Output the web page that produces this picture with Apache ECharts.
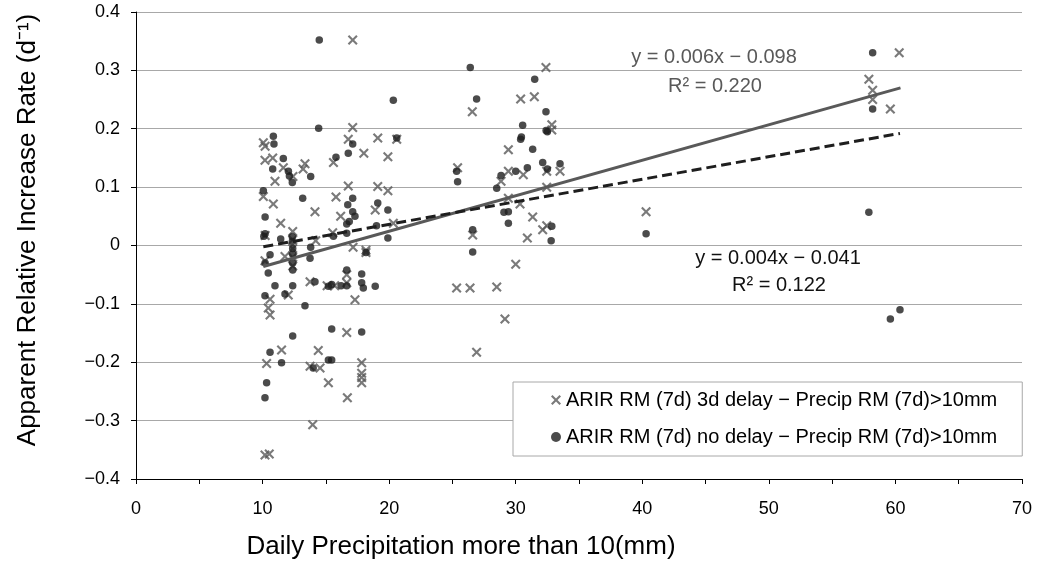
<!DOCTYPE html>
<html>
<head>
<meta charset="utf-8">
<script src="https://cdn.jsdelivr.net/npm/echarts@6/dist/echarts.min.js"></script>
<style>html,body{margin:0;padding:0;background:#fff}#c{width:1037px;height:566px}</style>
</head>
<body>
<div id="c"></div>
<script>
// ---- data ----
const seriesNames = [
  'ARIR RM (7d) 3d delay − Precip RM (7d)>10mm',
  'ARIR RM (7d) no delay − Precip RM (7d)>10mm'
];
// crosses: 3d delay
const delay3d = [
  [10.06,0.176],[10.2,0.170],[10.19,0.146],[10.8,0.150],[10.98,0.110],[11.64,0.133],[12.4,0.118],
  [13.2,0.131],[13.35,0.140],[15.6,0.142],[16.77,0.182],[17.12,0.202],[17.12,0.352],[18.0,0.158],
  [19.1,0.184],[20.6,0.182],[19.9,0.152],[10.06,0.084],[10.85,0.071],[11.43,0.038],[14.14,0.058],
  [15.8,0.083],[16.77,0.102],[16.17,0.050],[19.1,0.101],[19.9,0.094],[18.9,0.061],[20.33,0.038],
  [12.38,0.024],[10.2,0.017],[15.54,0.022],[14.2,0.008],[17.15,-0.003],[18.17,-0.008],
  [12.38,0.010],[12.38,-0.005],[12.38,-0.020],[12.38,-0.035],
  [11.77,-0.019],[10.19,-0.026],[10.59,-0.092],[10.45,-0.107],[10.59,-0.119],[12.03,-0.085],
  [11.5,-0.179],[10.32,-0.202],[10.19,-0.359],[10.53,-0.357],[13.75,-0.062],[14.4,-0.180],
  [13.75,-0.207],[14.54,-0.210],[15.2,-0.235],[13.96,-0.307],[15.1,-0.069],[15.7,-0.069],
  [16.65,-0.050],[16.65,-0.064],[17.3,-0.093],[16.65,-0.149],[16.7,-0.261],[17.83,-0.201],
  [17.83,-0.219],[17.83,-0.226],[17.83,-0.235],[18.17,-0.012],
  [32.39,0.305],[30.39,0.251],[31.47,0.255],[26.57,0.229],[32.85,0.207],[32.85,0.198],
  [29.42,0.164],[29.42,0.127],[30.6,0.121],[28.84,0.110],[25.41,0.133],[32.45,0.127],
  [33.5,0.127],[32.45,0.100],[29.42,0.081],[30.34,0.071],[31.34,0.049],[32.13,0.027],
  [32.45,0.034],[26.6,0.018],[30.92,0.013],[30.0,-0.032],[25.33,-0.073],[26.39,-0.073],
  [28.5,-0.071],[29.15,-0.126],[26.91,-0.183],
  [40.3,0.058],[60.3,0.330],[57.9,0.285],[58.2,0.266],[58.2,0.250],[59.6,0.234]
];
// dots: no delay
const noDelay = [
  [10.85,0.187],[10.9,0.174],[11.64,0.149],[10.8,0.131],[12.04,0.127],[12.12,0.119],[12.35,0.108],
  [13.8,0.118],[14.43,0.201],[14.48,0.352],[15.8,0.151],[16.77,0.158],[17.12,0.174],[20.33,0.249],
  [20.6,0.184],[10.06,0.094],[10.2,0.049],[13.17,0.081],[17.12,0.081],[16.73,0.070],[17.12,0.058],
  [17.3,0.050],[16.85,0.041],[16.65,0.037],[19.1,0.073],[19.9,0.061],[19.9,0.013],[19.0,0.034],
  [10.2,0.020],[10.1,0.016],[11.43,0.011],[12.35,0.015],[12.35,0.007],[15.6,0.016],[16.65,0.021],
  [13.8,-0.003],[12.38,-0.005],[12.38,-0.015],[12.38,-0.030],[12.38,-0.042],
  [10.59,-0.016],[10.2,-0.030],[10.45,-0.047],[10.98,-0.069],[12.38,-0.069],[10.19,-0.086],
  [11.77,-0.083],[13.35,-0.103],[12.38,-0.155],[10.59,-0.183],[11.5,-0.201],[10.32,-0.235],
  [10.19,-0.261],[13.75,-0.022],[14.14,-0.062],[14.0,-0.210],[15.2,-0.070],[15.46,-0.067],
  [15.46,-0.143],[15.2,-0.196],[15.46,-0.196],[16.65,-0.042],[16.65,-0.069],[16.2,-0.069],
  [17.83,-0.049],[17.83,-0.064],[17.96,-0.073],[17.83,-0.148],[18.17,-0.012],[18.9,-0.070],
  [26.41,0.305],[26.91,0.251],[25.41,0.109],[25.33,0.127],[31.5,0.285],[32.39,0.229],
  [30.55,0.206],[30.39,0.182],[30.45,0.186],[32.4,0.197],[32.5,0.195],[31.34,0.165],
  [30.92,0.133],[30.0,0.127],[28.84,0.120],[28.5,0.098],[32.13,0.142],[32.5,0.131],
  [33.5,0.140],[29.42,0.058],[29.07,0.057],[29.42,0.038],[26.6,0.027],[32.85,0.033],
  [32.8,0.008],[26.6,-0.011],
  [40.3,0.020],[58.2,0.330],[58.2,0.234],[57.9,0.057],[60.36,-0.110],[59.6,-0.126]
];
// trend line end points (as drawn)
const trend3d = [[10.06,-0.036],[60.4,0.270]];
const trendNo = [[10.06,-0.002],[60.36,0.192]];
const eqText3d = ['y = 0.006x − 0.098', 'R² = 0.220'];
const eqTextNo = ['y = 0.004x − 0.041', 'R² = 0.122'];
const xTitle = 'Daily Precipitation more than 10(mm)';
const yTitle = 'Apparent Relative Increase Rate (d⁻¹)';

const crossPath = 'path://M0,1.5L1.5,0L5,3.5L8.5,0L10,1.5L6.5,5L10,8.5L8.5,10L5,6.5L1.5,10L0,8.5L3.5,5Z';
const FONT = '"Liberation Sans", Arial, sans-serif';
const grayX = '#595959', dark = '#1e1e1e';

const chart = echarts.init(document.getElementById('c'), null, {renderer: 'canvas'});
chart.setOption({
  animation: false,
  backgroundColor: '#fff',
  textStyle: {fontFamily: FONT},
  grid: {left: 136, right: 15, top: 12, bottom: 87},
  xAxis: {
    type: 'value', min: 0, max: 70, interval: 10,
    axisLine: {show: true, onZero: false, lineStyle: {color: '#000', width: 1}},
    axisTick: {show: true, length: 5, lineStyle: {color: '#000'}},
    minorTick: {show: true, splitNumber: 2, length: 5, lineStyle: {color: '#000'}},
    splitLine: {show: false},
    axisLabel: {color: '#000', fontSize: 18, margin: 21, fontFamily: FONT}
  },
  yAxis: {
    type: 'value', min: -0.4, max: 0.4, interval: 0.1,
    axisLine: {show: true, onZero: false, lineStyle: {color: '#000', width: 1}},
    axisTick: {show: true, length: 5, lineStyle: {color: '#000'}},
    splitLine: {show: true, lineStyle: {color: '#a8a8a8', width: 1}},
    axisLabel: {
      color: '#000', fontSize: 18, margin: 16, fontFamily: FONT,
      formatter: v => {
        const r = Math.round(v * 10) / 10;
        if (r === 0) return '0';
        return (r < 0 ? '−' : '') + Math.abs(r).toFixed(1);
      }
    }
  },
  legend: {
    left: 513, top: 382, orient: 'vertical',
    padding: [8, 25, 9, 38], itemGap: 17, itemWidth: 10, itemHeight: 10,
    backgroundColor: '#fff', borderColor: '#a8a8a8', borderWidth: 1,
    textStyle: {fontSize: 20, color: '#000', fontFamily: FONT, lineHeight: 20},
    data: [
      {name: seriesNames[0], icon: crossPath},
      {name: seriesNames[1], icon: 'circle'}
    ]
  },
  series: [
    {
      name: seriesNames[0], type: 'scatter', data: delay3d,
      symbol: crossPath, symbolSize: 10,
      itemStyle: {color: grayX}, z: 3
    },
    {
      name: seriesNames[1], type: 'scatter', data: noDelay,
      symbol: 'circle', symbolSize: 7.5,
      itemStyle: {color: dark}, z: 3
    },
    {
      name: 'trend3d', type: 'line', data: trend3d, symbol: 'none', z: 5,
      lineStyle: {color: grayX, width: 3, type: 'solid'}
    },
    {
      name: 'trendNo', type: 'line', data: trendNo, symbol: 'none', z: 5,
      lineStyle: {color: dark, width: 3, type: [10, 5]}
    }
  ],
  graphic: [
    {type: 'text', x: 714, y: 57, style: {text: eqText3d[0], fill: grayX, font: '20px ' + FONT, textAlign: 'center', textVerticalAlign: 'middle'}},
    {type: 'text', x: 715, y: 86, style: {text: eqText3d[1], fill: grayX, font: '20px ' + FONT, textAlign: 'center', textVerticalAlign: 'middle'}},
    {type: 'text', x: 778, y: 258, style: {text: eqTextNo[0], fill: '#111', font: '20px ' + FONT, textAlign: 'center', textVerticalAlign: 'middle'}},
    {type: 'text', x: 779, y: 285, style: {text: eqTextNo[1], fill: '#111', font: '20px ' + FONT, textAlign: 'center', textVerticalAlign: 'middle'}},
    {type: 'text', x: 461, y: 547, style: {text: xTitle, fill: '#000', font: '26px ' + FONT, textAlign: 'center', textVerticalAlign: 'middle'}},
    {type: 'text', x: 28, y: 230, rotation: Math.PI / 2, style: {text: yTitle, fill: '#000', font: '26px ' + FONT, textAlign: 'center', textVerticalAlign: 'middle'}}
  ]
});
</script>
</body>
</html>
